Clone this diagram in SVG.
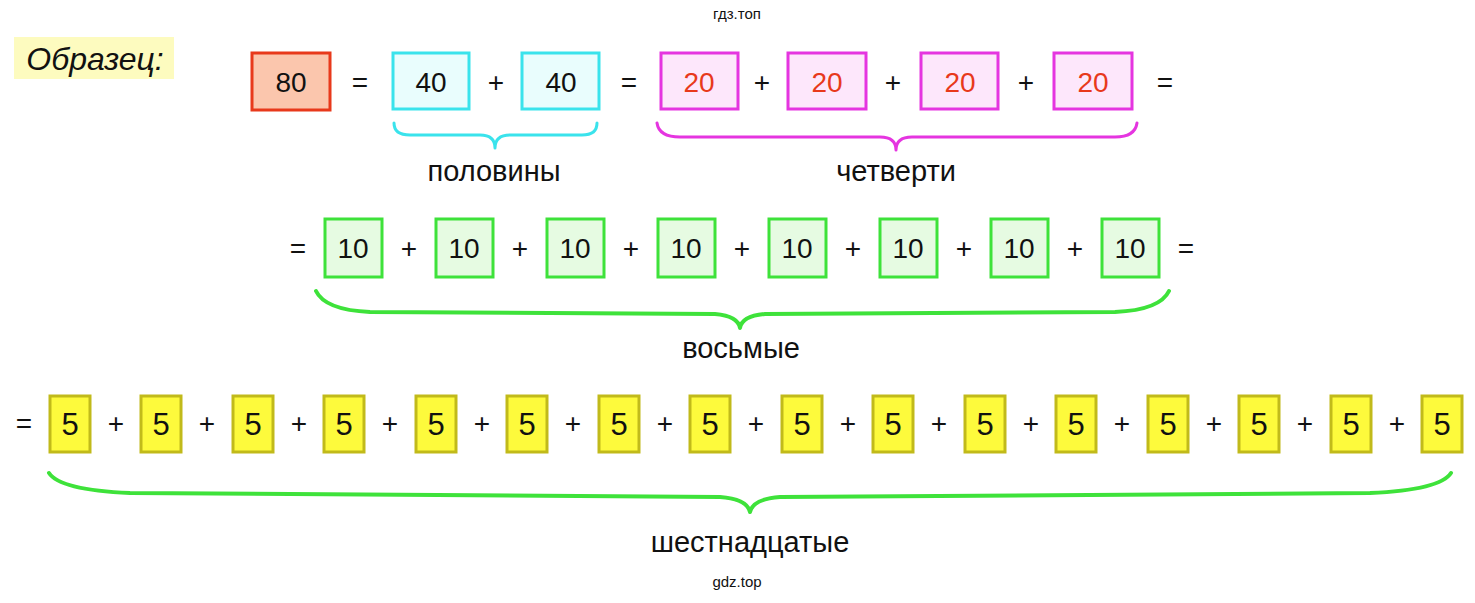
<svg xmlns="http://www.w3.org/2000/svg" width="1475" height="603" viewBox="0 0 1475 603">
<style>
text{font-family:"Liberation Sans",Arial,sans-serif;fill:#111;text-anchor:middle}
.n{font-size:28px}
.op{font-size:28px}
.lbl{font-size:29px}
.wm{font-size:15px}
.r{fill:#e8391b}
.b80{fill:#fbc6ad;stroke:#e8391b;stroke-width:3}
.b40{fill:#e9fdfd;stroke:#3ae3ec;stroke-width:3}
.b20{fill:#fde7fb;stroke:#e535e0;stroke-width:3}
.b10{fill:#e6fbe2;stroke:#3ee23a;stroke-width:3}
.b5{fill:#fdfa3c;stroke:#c1ba1a;stroke-width:3}
.br{fill:none;stroke-linecap:round;stroke-linejoin:round}
</style>
<rect x="14" y="37" width="160" height="42" fill="#fdfbbf"/>
<text x="95" y="70" style="font-size:32px;font-style:italic">Образец:</text>
<text class="wm" x="737" y="19">гдз.топ</text>
<text class="wm" x="737" y="587">gdz.top</text>
<g id="row1">
<g id="n80"><rect class="b80" x="252" y="53" width="78" height="57"/><text class="n" x="291" y="92">80</text></g>
<text class="op" x="360" y="92">=</text>
<g id="n40a"><rect class="b40" x="393" y="53" width="76" height="56"/><text class="n" x="431" y="92">40</text></g>
<text class="op" x="496" y="92">+</text>
<g id="n40b"><rect class="b40" x="522" y="53" width="77" height="56"/><text class="n" x="561" y="92">40</text></g>
<text class="op" x="629" y="92">=</text>
<g id="n20a"><rect class="b20" x="661" y="53" width="77" height="56"/><text class="n r" x="699" y="92">20</text></g>
<text class="op" x="762" y="92">+</text>
<g id="n20b"><rect class="b20" x="788" y="53" width="78" height="56"/><text class="n r" x="827" y="92">20</text></g>
<text class="op" x="893" y="92">+</text>
<g id="n20c"><rect class="b20" x="921" y="53" width="77" height="56"/><text class="n r" x="960" y="92">20</text></g>
<text class="op" x="1026" y="92">+</text>
<g id="n20d"><rect class="b20" x="1054" y="53" width="78" height="56"/><text class="n r" x="1093" y="92">20</text></g>
<text class="op" x="1165" y="92">=</text>
</g>
<g id="connectors">
<path class="br" stroke="#3ae3ec" stroke-width="3" d="M394 123 Q394 135 410 135 L480 135 Q495 135 495 148 Q495 135 510 135 L582 135 Q597 135 597 123"/>
<path class="br" stroke="#e535e0" stroke-width="3" d="M657 123 Q659 137 680 137 L880 137 Q896 137 896 150 Q896 137 912 137 L1115 137 Q1135 137 1137 123"/>
<path class="br" stroke="#3ee23a" stroke-width="4" d="M316 291 Q325 310 370 312 L715 314 Q738 316 740 328 Q742 316 765 314 L1115 312 Q1160 310 1169 291"/>
<path class="br" stroke="#3ee23a" stroke-width="4" d="M49 473 Q60 490 130 493 L720 497 Q747 499 750 512 Q753 499 780 497 L1370 493 Q1440 490 1451 473"/>
</g>
<text class="lbl" x="494" y="181">половины</text>
<text class="lbl" x="896" y="181">четверти</text>
<text class="lbl" x="741" y="358">восьмые</text>
<text class="lbl" x="750" y="552">шестнадцатые</text>
<g id="row2">
<text class="op" x="298" y="258">=</text>
<g id="t1"><rect class="b10" x="325" y="219" width="57" height="58"/><text class="n" x="353" y="258">10</text></g>
<text class="op" x="409" y="258">+</text>
<g id="t2"><rect class="b10" x="436" y="219" width="57" height="58"/><text class="n" x="464" y="258">10</text></g>
<text class="op" x="520" y="258">+</text>
<g id="t3"><rect class="b10" x="547" y="219" width="57" height="58"/><text class="n" x="575" y="258">10</text></g>
<text class="op" x="631" y="258">+</text>
<g id="t4"><rect class="b10" x="658" y="219" width="57" height="58"/><text class="n" x="686" y="258">10</text></g>
<text class="op" x="742" y="258">+</text>
<g id="t5"><rect class="b10" x="769" y="219" width="57" height="58"/><text class="n" x="797" y="258">10</text></g>
<text class="op" x="853" y="258">+</text>
<g id="t6"><rect class="b10" x="880" y="219" width="57" height="58"/><text class="n" x="908" y="258">10</text></g>
<text class="op" x="964" y="258">+</text>
<g id="t7"><rect class="b10" x="991" y="219" width="57" height="58"/><text class="n" x="1019" y="258">10</text></g>
<text class="op" x="1075" y="258">+</text>
<g id="t8"><rect class="b10" x="1102" y="219" width="57" height="58"/><text class="n" x="1130" y="258">10</text></g>
<text class="op" x="1186" y="258">=</text>
</g>
<g id="row3" style="font-size:30px">
<text class="op" x="24" y="433">=</text>
<g id="f1"><rect class="b5" x="50" y="396" width="40" height="56"/><text x="70" y="435" style="font-size:31px">5</text></g>
<text class="op" x="116" y="433">+</text>
<g id="f2"><rect class="b5" x="141" y="396" width="40" height="56"/><text x="161" y="435" style="font-size:31px">5</text></g>
<text class="op" x="207" y="433">+</text>
<g id="f3"><rect class="b5" x="233" y="396" width="40" height="56"/><text x="253" y="435" style="font-size:31px">5</text></g>
<text class="op" x="299" y="433">+</text>
<g id="f4"><rect class="b5" x="324" y="396" width="40" height="56"/><text x="344" y="435" style="font-size:31px">5</text></g>
<text class="op" x="390" y="433">+</text>
<g id="f5"><rect class="b5" x="416" y="396" width="40" height="56"/><text x="436" y="435" style="font-size:31px">5</text></g>
<text class="op" x="482" y="433">+</text>
<g id="f6"><rect class="b5" x="507" y="396" width="40" height="56"/><text x="527" y="435" style="font-size:31px">5</text></g>
<text class="op" x="573" y="433">+</text>
<g id="f7"><rect class="b5" x="599" y="396" width="40" height="56"/><text x="619" y="435" style="font-size:31px">5</text></g>
<text class="op" x="665" y="433">+</text>
<g id="f8"><rect class="b5" x="690" y="396" width="40" height="56"/><text x="710" y="435" style="font-size:31px">5</text></g>
<text class="op" x="756" y="433">+</text>
<g id="f9"><rect class="b5" x="782" y="396" width="40" height="56"/><text x="802" y="435" style="font-size:31px">5</text></g>
<text class="op" x="848" y="433">+</text>
<g id="f10"><rect class="b5" x="873" y="396" width="40" height="56"/><text x="893" y="435" style="font-size:31px">5</text></g>
<text class="op" x="939" y="433">+</text>
<g id="f11"><rect class="b5" x="965" y="396" width="40" height="56"/><text x="985" y="435" style="font-size:31px">5</text></g>
<text class="op" x="1031" y="433">+</text>
<g id="f12"><rect class="b5" x="1056" y="396" width="40" height="56"/><text x="1076" y="435" style="font-size:31px">5</text></g>
<text class="op" x="1122" y="433">+</text>
<g id="f13"><rect class="b5" x="1148" y="396" width="40" height="56"/><text x="1168" y="435" style="font-size:31px">5</text></g>
<text class="op" x="1214" y="433">+</text>
<g id="f14"><rect class="b5" x="1239" y="396" width="40" height="56"/><text x="1259" y="435" style="font-size:31px">5</text></g>
<text class="op" x="1305" y="433">+</text>
<g id="f15"><rect class="b5" x="1331" y="396" width="40" height="56"/><text x="1351" y="435" style="font-size:31px">5</text></g>
<text class="op" x="1397" y="433">+</text>
<g id="f16"><rect class="b5" x="1422" y="396" width="40" height="56"/><text x="1442" y="435" style="font-size:31px">5</text></g>
</g>
</svg>
